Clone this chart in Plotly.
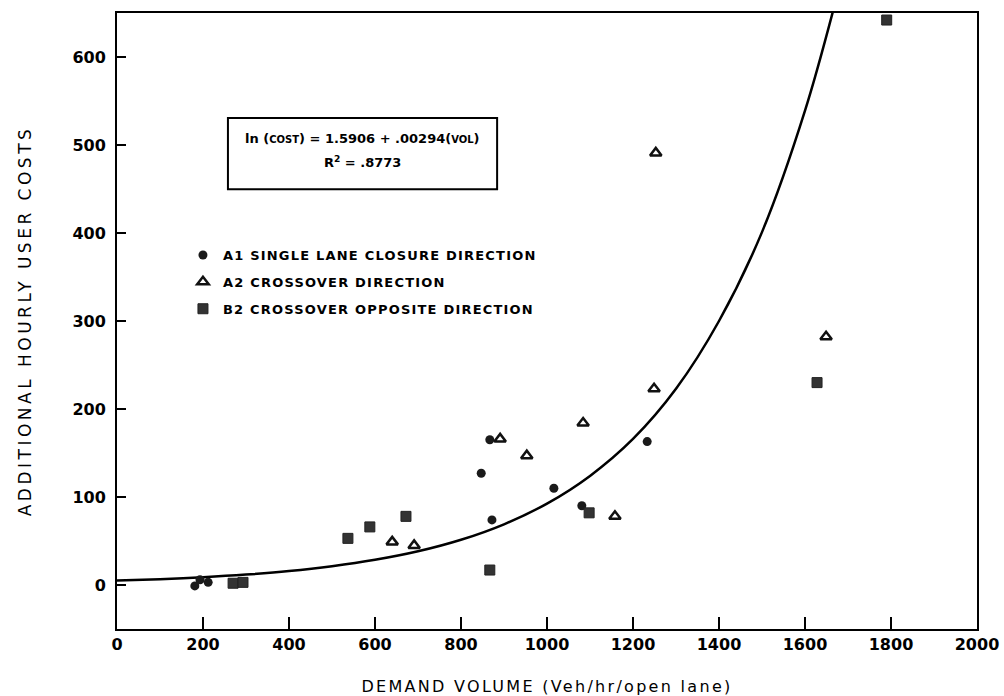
import plotly.graph_objects as go

# ---- data ----
a1_vol = [181, 193, 212, 847, 867, 872, 1016, 1081, 1233]
a1_cost = [-1, 6, 3, 127, 165, 74, 110, 90, 163]

a2_vol = [640, 691, 891, 953, 1084, 1158, 1249, 1253, 1649]
a2_cost = [49, 45, 166, 147, 184, 78, 223, 491, 282]

b2_vol = [270, 293, 537, 588, 672, 867, 1098, 1628, 1790]
b2_cost = [2, 3, 53, 66, 78, 17, 82, 230, 642]

# fitted curve
fit_vol = [0, 100, 200, 300, 400, 500, 600, 700, 800, 900, 1000, 1100, 1200,
           1300, 1400, 1500, 1600, 1680]
fit_cost = [5, 6.6, 8.8, 11.8, 15.8, 21.3, 28.6, 38.3, 51.4, 69, 92.5, 124, 166,
            223, 300, 401, 539, 680]

x_ticks = [0, 200, 400, 600, 800, 1000, 1200, 1400, 1600, 1800, 2000]
y_ticks = [0, 100, 200, 300, 400, 500, 600]

legend_names = ["A1 SINGLE LANE CLOSURE DIRECTION",
                "A2 CROSSOVER DIRECTION",
                "B2 CROSSOVER OPPOSITE DIRECTION"]

FONT = "DejaVu Sans"


def spaced(t, px):
    return f"<span style='letter-spacing:{px}px'>{t}</span>"


fig = go.Figure()

fig.add_trace(go.Scatter(
    x=fit_vol, y=fit_cost, mode="lines", line=dict(color="black", width=2.5, shape="spline"),
    showlegend=False, hoverinfo="skip"))

fig.add_trace(go.Scatter(
    x=a1_vol, y=a1_cost, mode="markers", name=spaced(legend_names[0], 1.2),
    legendgroup="a1",
    marker=dict(symbol="circle", size=9, color="#1a1a1a", line=dict(color="#1a1a1a", width=0))))

fig.add_trace(go.Scatter(
    x=a2_vol, y=a2_cost, mode="markers", name=spaced(legend_names[1], 1.2),
    legendgroup="a2",
    marker=dict(symbol="triangle-up-open", size=10, color="#111111", line=dict(color="#111111", width=2.5))))

fig.add_trace(go.Scatter(
    x=b2_vol, y=b2_cost, mode="markers", name=spaced(legend_names[2], 1.2),
    legendgroup="b2",
    marker=dict(symbol="square", size=10, color="#333333", line=dict(color="#222222", width=1))))

# equation box
fig.add_shape(type="rect", xref="paper", yref="paper",
              x0=0.129, x1=0.442, y0=0.714, y1=0.8295,
              line=dict(color="black", width=2), fillcolor="rgba(0,0,0,0)")

fig.add_annotation(
    xref="paper", yref="paper", x=0.2855, y=0.7955, xanchor="center", yanchor="middle",
    text="ln (COST) = 1.5906 + .00294(VOL)".replace("COST", "<span style='font-size:10px'>COST</span>").replace("VOL", "<span style='font-size:10px'>VOL</span>"),
    showarrow=False, font=dict(family=FONT, size=13, color="black", weight="bold"))
fig.add_annotation(
    xref="paper", yref="paper", x=0.2855, y=0.7575, xanchor="center", yanchor="middle",
    text="R<sup>2</sup> = .8773",
    showarrow=False, font=dict(family=FONT, size=13, color="black", weight="bold"))

axis_common = dict(
    showline=True, linecolor="black", linewidth=2, mirror=True,
    ticks="inside", tickcolor="black", tickwidth=2,
    showgrid=False, zeroline=False,
    tickfont=dict(family=FONT, size=16, color="black", weight="bold"),
)

fig.update_xaxes(
    range=[0, 2000], tickvals=x_ticks, ticktext=[str(v) for v in x_ticks], ticklen=12,
    title=dict(text=spaced("DEMAND VOLUME (Veh/hr/open lane)", 2.3), standoff=29,
               font=dict(family=FONT, size=16, color="black")),
    **axis_common)
fig.update_yaxes(
    range=[-50, 650], tickvals=y_ticks, ticktext=[str(v) for v in y_ticks], ticklen=9,
    ticklabelstandoff=6,
    title=dict(text=spaced("ADDITIONAL HOURLY USER COSTS", 3.5), standoff=36,
               font=dict(family=FONT, size=17, color="black")),
    **axis_common)

fig.update_layout(
    width=1004, height=696,
    margin=dict(l=117, r=27, t=13, b=67, autoexpand=False),
    paper_bgcolor="white", plot_bgcolor="white",
    legend=dict(x=0.0767, y=0.6315, xanchor="left", yanchor="top",
                bgcolor="rgba(0,0,0,0)", borderwidth=0, tracegroupgap=7,
                font=dict(family=FONT, size=13, color="black", weight="bold")),
)

fig.write_html("out.html")
